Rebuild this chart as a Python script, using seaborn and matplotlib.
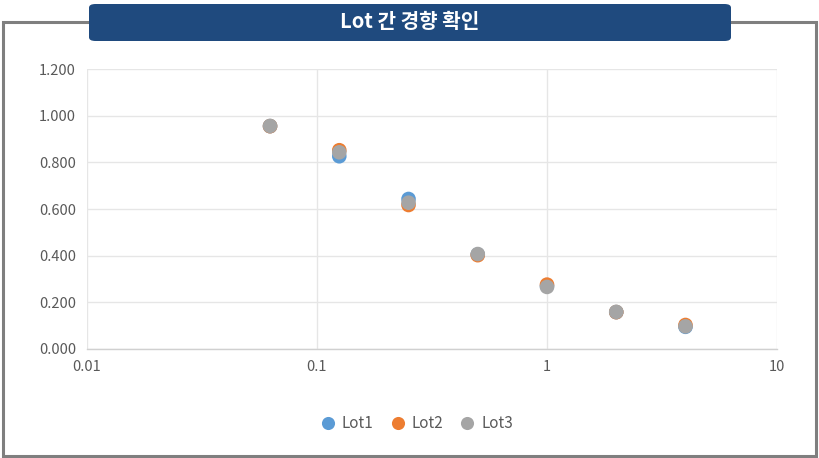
import matplotlib
matplotlib.use("Agg")
import matplotlib.pyplot as plt
import seaborn as sns
import pandas as pd
from matplotlib.patches import Rectangle, FancyBboxPatch
from matplotlib.ticker import FuncFormatter, FixedLocator

title = "Lot 간 경향 확인"
conc = [0.0625, 0.125, 0.25, 0.5, 1, 2, 4]
lot1 = [0.955, 0.826, 0.643, 0.405, 0.270, 0.158, 0.095]
lot2 = [0.955, 0.852, 0.617, 0.402, 0.276, 0.158, 0.103]
lot3 = [0.956, 0.843, 0.627, 0.407, 0.266, 0.159, 0.097]
series = ["Lot1", "Lot2", "Lot3"]
colors = ["#5B9BD5", "#ED7D31", "#A5A5A5"]
xticks = [0.01, 0.1, 1, 10]
xticklabels = ["0.01", "0.1", "1", "10"]
yticks = [0.0, 0.2, 0.4, 0.6, 0.8, 1.0, 1.2]

rows = []
for name, vals in zip(series, [lot1, lot2, lot3]):
    for c, v in zip(conc, vals):
        rows.append({"conc": c, "value": v, "Lot": name})
df = pd.DataFrame(rows)

sns.set_theme(style="white")
plt.rcParams["font.family"] = ["Noto Sans CJK KR", "DejaVu Sans"]

fig = plt.figure(figsize=(8.2, 4.58), dpi=100)
fig.patch.set_facecolor("white")

# outer frame
fig.patches.append(Rectangle((3/820, 2/458), 813/820, (436-2)/458,
                             transform=fig.transFigure, fill=False,
                             edgecolor="#7F7F7F", linewidth=2.2, zorder=0))

ax = fig.add_axes([87/820, (458-349)/458, (777-87)/820, (349-69)/458])
ax.set_xscale("log")
sns.scatterplot(data=df, x="conc", y="value", hue="Lot", hue_order=series,
                palette=colors, s=110, edgecolor="none", ax=ax, legend=True, zorder=3)

ax.set_xlim(0.01, 10)
ax.set_ylim(0, 1.2)
ax.xaxis.set_major_locator(FixedLocator(xticks))
ax.set_xticklabels(xticklabels)
ax.xaxis.set_minor_locator(FixedLocator([]))
ax.set_yticks(yticks)
ax.yaxis.set_major_formatter(FuncFormatter(lambda v, p: f"{v:.3f}"))
ax.grid(True, color="#E6E6E6", linewidth=1.0, zorder=0)
ax.set_axisbelow(True)
for side in ["top", "right", "left"]:
    ax.spines[side].set_visible(False)
ax.spines["bottom"].set_color("#D0D0D0")
ax.spines["bottom"].set_linewidth(1.0)
ax.tick_params(axis="both", length=0, colors="#595959", labelsize=10.5, pad=8)
ax.set_xlabel("")
ax.set_ylabel("")

leg = ax.legend(loc="upper center", bbox_to_anchor=(0.472, -0.215), ncol=3,
                frameon=False, fontsize=11, handletextpad=-0.1, columnspacing=0.6,
                markerscale=0.9, borderaxespad=0)
for t in leg.get_texts():
    t.set_color("#595959")

# title box
fig.patches.append(FancyBboxPatch((89/820, (458-41)/458), (731-89)/820, 37/458,
                                  boxstyle="round,pad=0,rounding_size=0.008",
                                  transform=fig.transFigure, facecolor="#1F4A7E",
                                  edgecolor="none", zorder=5))
fig.text(410/820, (458-22)/458, title, ha="center", va="center", color="white",
         fontsize=14.5, fontweight="bold", zorder=6)

fig.savefig("out.png", dpi=100)
